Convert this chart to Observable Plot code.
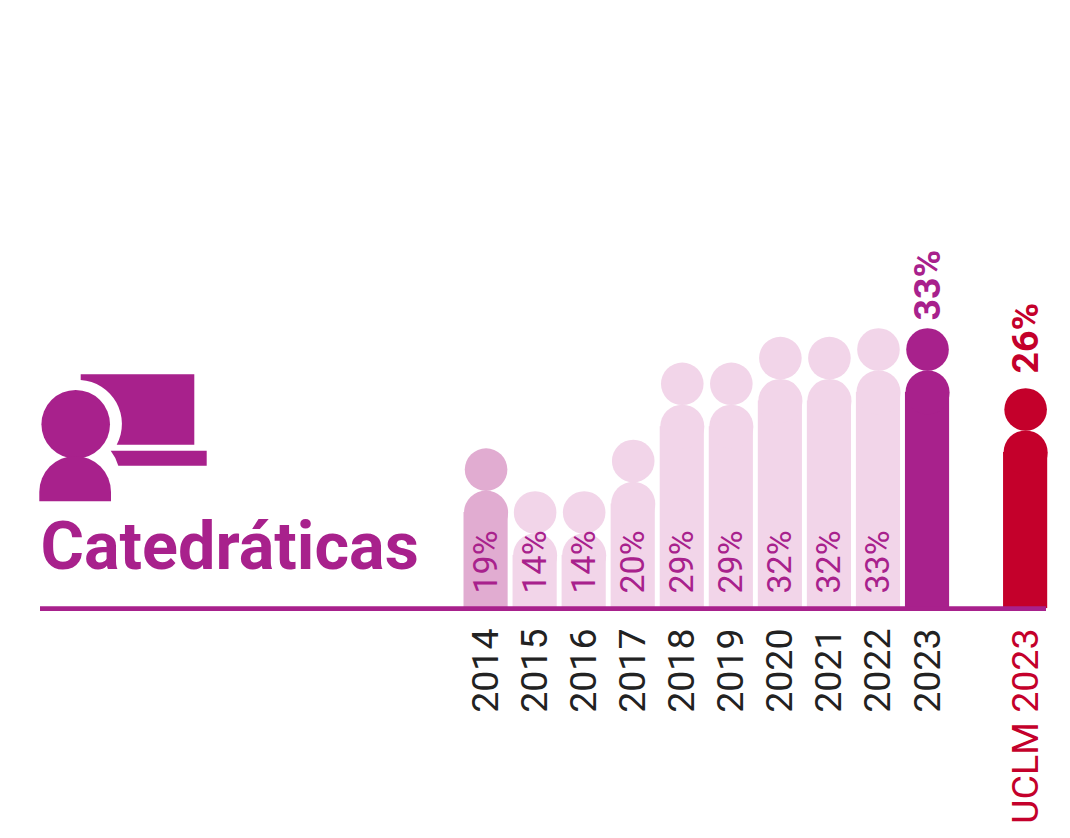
<!DOCTYPE html>
<html lang="es">
<head>
<meta charset="utf-8">
<script src="https://cdn.jsdelivr.net/npm/d3@7"></script>
<script src="https://cdn.jsdelivr.net/npm/@observablehq/plot@0.6"></script>
<style>html,body{margin:0;background:#fff}svg{display:block}</style>
</head>
<body>
<div id="chart"></div>
<script>
const categories = ["2014","2015","2016","2017","2018","2019","2020","2021","2022","2023","","UCLM 2023"];
const values = [19,14,14,20,29,29,32,32,33,33,null,26];
const fills = ["#e1acd1","#f2d5e9","#f2d5e9","#f2d5e9","#f2d5e9","#f2d5e9","#f2d5e9","#f2d5e9","#f2d5e9","#a8218c",null,"#c4002b"];
const title = "Catedráticas";
const purple = "#a8218c", red = "#c4002b", ink = "#222222";

const rows = categories.map((c,i)=>({c, v:values[i], fill:fills[i], i})).filter(d=>d.v!=null);
const past = rows.filter(d=>d.i<9);
const BASE = 2.8;       // value at which the baseline sits
const SHOULDER = 5.0;   // shoulder circle centre below head centre, in value units

function icon(){
  const g = d3.create("svg:g").attr("fill",purple);
  g.append("path").attr("d","M80.7 374.3H194.3V444.7H116.7A44 44 0 0 0 80.7 380Z");
  g.append("path").attr("d","M110.7 450.7H206.7V465.7H118.3A44 44 0 0 0 110.7 450.7Z");
  g.append("circle").attr("cx",75.7).attr("cy",424.3).attr("r",34.3);
  g.append("path").attr("d","M39.3 501.3V492A35.85 36 0 0 1 111 492V501.3Z");
  return g.node();
}

const years = categories.slice(0,10);
const chart = Plot.plot({
  width:1070, height:838,
  marginLeft:40, marginRight:24, marginTop:0, marginBottom:230,
  style:{fontFamily:"Roboto, sans-serif", background:"#fff", overflow:"visible"},
  x:{type:"band", domain:categories, range:[458.6,1052.1], padding:0.1, round:false},
  y:{axis:null, domain:[0,33], range:[632.1,349]},
  color:{type:"identity"},
  marks:[
    icon,
    Plot.text([title],{text:d=>d,frameAnchor:"top-left",dx:0,dy:547,fontSize:66.5,fontWeight:700,fill:purple,lineAnchor:"middle",textAnchor:"start"}),
    Plot.barY(rows,{x:"c",y1:()=>BASE,y2:d=>d.v-SHOULDER,fill:"fill"}),
    Plot.dot(rows,{x:"c",y:d=>d.v-SHOULDER,r:22.05,fill:"fill"}),
    Plot.dot(rows,{x:"c",y:"v",r:21.3,fill:"fill"}),
    Plot.ruleY([BASE],{stroke:purple,strokeWidth:4.6}),
    Plot.text(past,{x:"c",y:()=>BASE,dy:-15,text:d=>d.v+"%",rotate:-90,textAnchor:"start",lineAnchor:"middle",fontSize:34,fontWeight:400,fill:purple}),
    Plot.text(rows.filter(d=>d.i===9),{x:"c",y:"v",dy:-29,text:d=>d.v+"%",rotate:-90,textAnchor:"start",lineAnchor:"middle",fontSize:37.5,fontWeight:700,fill:purple}),
    Plot.text(rows.filter(d=>d.i===11),{x:"c",y:"v",dy:-36,text:d=>d.v+"%",rotate:-90,textAnchor:"start",lineAnchor:"middle",fontSize:37.5,fontWeight:700,fill:red}),
    Plot.axisX(years,{anchor:"bottom",tickSize:0,tickPadding:20,tickRotate:-90,fontSize:37.5,fontWeight:400,fill:ink,label:null}),
    Plot.axisX(["UCLM 2023"],{anchor:"bottom",tickSize:0,tickPadding:20,tickRotate:-90,fontSize:37.5,fontWeight:400,fill:red,label:null})
  ]
});
document.getElementById("chart").append(chart);
</script>
</body>
</html>
